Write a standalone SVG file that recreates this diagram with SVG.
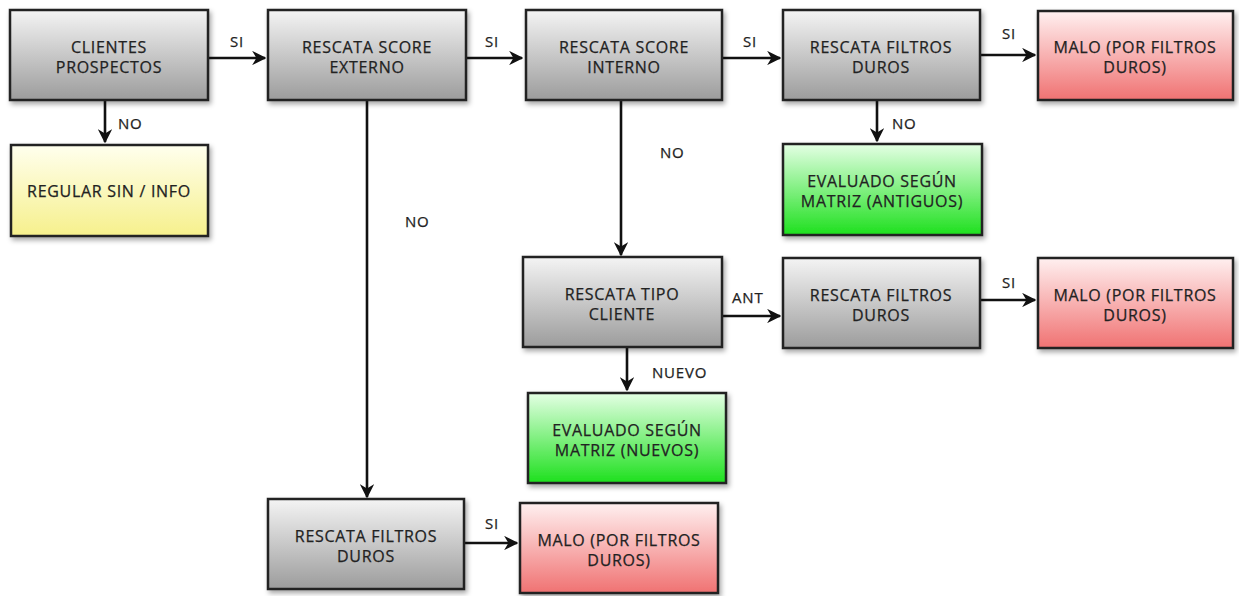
<svg xmlns="http://www.w3.org/2000/svg" width="1239" height="596" viewBox="0 0 1239 596">
  <defs>
    <linearGradient id="gGray" x1="0" y1="0" x2="0" y2="1">
      <stop offset="0" stop-color="#f4f4f4"/>
      <stop offset="1" stop-color="#9c9c9c"/>
    </linearGradient>
    <linearGradient id="gRed" x1="0" y1="0" x2="0" y2="1">
      <stop offset="0" stop-color="#fff0f0"/>
      <stop offset="1" stop-color="#f07272"/>
    </linearGradient>
    <linearGradient id="gGreen" x1="0" y1="0" x2="0" y2="1">
      <stop offset="0" stop-color="#e4ffe4"/>
      <stop offset="1" stop-color="#1ee01e"/>
    </linearGradient>
    <linearGradient id="gYellow" x1="0" y1="0" x2="0" y2="1">
      <stop offset="0" stop-color="#ffffee"/>
      <stop offset="1" stop-color="#f6f08c"/>
    </linearGradient>
    <filter id="shadow" x="-10%" y="-10%" width="125%" height="130%">
      <feDropShadow dx="2" dy="3" stdDeviation="2.5" flood-color="#000" flood-opacity="0.35"/>
    </filter>
    <marker id="arrow" viewBox="0 0 10 10" refX="9" refY="5" markerWidth="5.5" markerHeight="5.5" orient="auto" markerUnits="strokeWidth">
      <path d="M0,0 L10,5 L0,10 L3,5 Z" fill="#111"/>
    </marker>
  </defs>
  <style>
    rect.box { stroke: #222; stroke-width: 2.5; filter: url(#shadow); }
    .gray { fill: url(#gGray); }
    .red { fill: url(#gRed); }
    .green { fill: url(#gGreen); }
    .yellow { fill: url(#gYellow); }
    text { font-family: "Open Sans", "Lato", "Liberation Sans", sans-serif; font-size: 16px; letter-spacing: 0.7px; fill: #222; text-anchor: middle; stroke: #222; stroke-width: 0.25; }
    text.lbl { text-anchor: start; font-size: 15px; letter-spacing: 0.8px; }
    #connectors line { stroke: #111; stroke-width: 2.6; marker-end: url(#arrow); }
  </style>

  <rect width="1239" height="596" fill="#ffffff"/>

  <!-- connectors -->
  <g id="connectors">
    <line x1="209" y1="58" x2="265" y2="58"/>
    <line x1="105" y1="100" x2="105" y2="142"/>
    <line x1="466" y1="58" x2="522" y2="58"/>
    <line x1="367" y1="100" x2="367" y2="497"/>
    <line x1="722" y1="58" x2="780" y2="58"/>
    <line x1="621" y1="100" x2="621" y2="255"/>
    <line x1="980" y1="55" x2="1035" y2="55"/>
    <line x1="877" y1="100" x2="877" y2="141"/>
    <line x1="722" y1="316" x2="780" y2="316"/>
    <line x1="980" y1="300" x2="1035" y2="300"/>
    <line x1="627" y1="347" x2="627" y2="390"/>
    <line x1="464" y1="543" x2="517" y2="543"/>
    <text class="lbl" x="230" y="47">SI</text>
    <text class="lbl" x="118" y="129">NO</text>
    <text class="lbl" x="485" y="47">SI</text>
    <text class="lbl" x="405" y="227">NO</text>
    <text class="lbl" x="743" y="47">SI</text>
    <text class="lbl" x="660" y="158">NO</text>
    <text class="lbl" x="1002" y="39">SI</text>
    <text class="lbl" x="892" y="129">NO</text>
    <text class="lbl" x="732" y="303">ANT</text>
    <text class="lbl" x="1002" y="288">SI</text>
    <text class="lbl" x="652" y="378">NUEVO</text>
    <text class="lbl" x="485" y="529">SI</text>
  </g>

  <g id="clientes-prospectos">
    <rect class="box gray" x="10" y="10" width="198" height="90"/>
    <text x="109" y="53">CLIENTES</text>
    <text x="109" y="73">PROSPECTOS</text>
  </g>
  <g id="regular-sin-info">
    <rect class="box yellow" x="11" y="145" width="197" height="91"/>
    <text x="109" y="197">REGULAR SIN / INFO</text>
  </g>
  <g id="score-externo">
    <rect class="box gray" x="268" y="10" width="198" height="90"/>
    <text x="367" y="53">RESCATA SCORE</text>
    <text x="367" y="73">EXTERNO</text>
  </g>
  <g id="score-interno">
    <rect class="box gray" x="526" y="10" width="196" height="90"/>
    <text x="624" y="53">RESCATA SCORE</text>
    <text x="624" y="73">INTERNO</text>
  </g>
  <g id="filtros-duros-1">
    <rect class="box gray" x="783" y="10" width="197" height="90"/>
    <text x="881" y="53">RESCATA FILTROS</text>
    <text x="881" y="73">DUROS</text>
  </g>
  <g id="malo-1">
    <rect class="box red" x="1038" y="11" width="195" height="89"/>
    <text x="1135" y="53">MALO (POR FILTROS</text>
    <text x="1135" y="73">DUROS)</text>
  </g>
  <g id="evaluado-antiguos">
    <rect class="box green" x="783" y="144" width="199" height="91"/>
    <text x="882" y="187">EVALUADO SEGÚN</text>
    <text x="882" y="207">MATRIZ (ANTIGUOS)</text>
  </g>
  <g id="tipo-cliente">
    <rect class="box gray" x="523" y="257" width="199" height="90"/>
    <text x="622" y="300">RESCATA TIPO</text>
    <text x="622" y="320">CLIENTE</text>
  </g>
  <g id="filtros-duros-2">
    <rect class="box gray" x="783" y="258" width="197" height="90"/>
    <text x="881" y="301">RESCATA FILTROS</text>
    <text x="881" y="321">DUROS</text>
  </g>
  <g id="malo-2">
    <rect class="box red" x="1038" y="258" width="195" height="90"/>
    <text x="1135" y="301">MALO (POR FILTROS</text>
    <text x="1135" y="321">DUROS)</text>
  </g>
  <g id="evaluado-nuevos">
    <rect class="box green" x="528" y="393" width="198" height="90"/>
    <text x="627" y="436">EVALUADO SEGÚN</text>
    <text x="627" y="456">MATRIZ (NUEVOS)</text>
  </g>
  <g id="filtros-duros-3">
    <rect class="box gray" x="268" y="499" width="196" height="90"/>
    <text x="366" y="542">RESCATA FILTROS</text>
    <text x="366" y="562">DUROS</text>
  </g>
  <g id="malo-3">
    <rect class="box red" x="520" y="503" width="198" height="90"/>
    <text x="619" y="546">MALO (POR FILTROS</text>
    <text x="619" y="566">DUROS)</text>
  </g>
</svg>
